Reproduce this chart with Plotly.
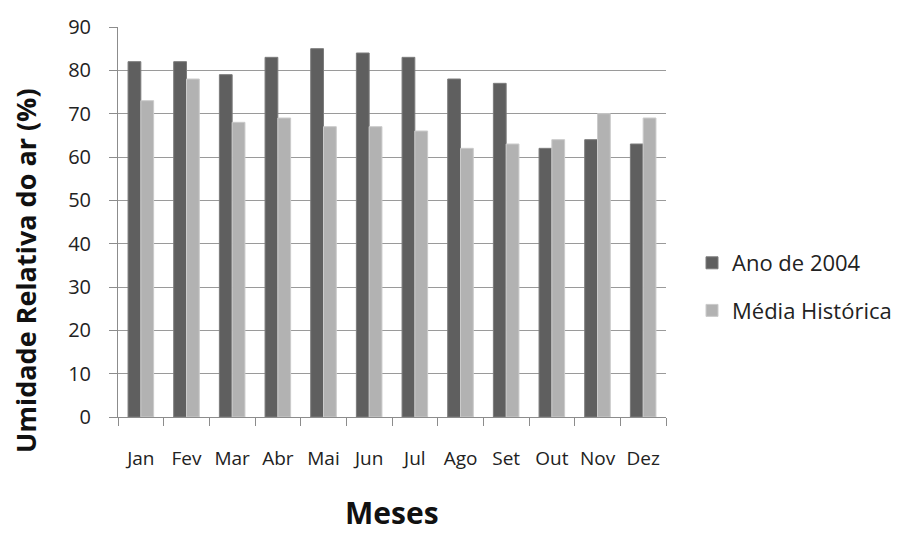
import plotly.graph_objects as go

meses = ["Jan", "Fev", "Mar", "Abr", "Mai", "Jun", "Jul", "Ago", "Set", "Out", "Nov", "Dez"]
ano_2004 = [82, 82, 79, 83, 85, 84, 83, 78, 77, 62, 64, 63]
media_historica = [73, 78, 68, 69, 67, 67, 66, 62, 63, 64, 70, 69]
y_ticks = [0, 10, 20, 30, 40, 50, 60, 70, 80, 90]

font_main = "Open Sans, DejaVu Sans, sans-serif"

# plot area in pixels
L, R, T, B = 118, 666, 27, 417
W, H = 904, 534

fig = go.Figure()
fig.add_trace(go.Bar(
    x=meses, y=ano_2004, name="Ano de 2004", legendgroup="a",
    marker=dict(color="#5f5f5f", line=dict(color="#7c7c7c", width=1)),
))
fig.add_trace(go.Bar(
    x=meses, y=media_historica, name="Média Histórica", legendgroup="b",
    marker=dict(color="#b2b2b2", line=dict(color="#cbcbcb", width=1)),
))

fig.update_layout(
    width=W, height=H,
    margin=dict(l=L, r=W - R, t=T, b=H - B),
    paper_bgcolor="white", plot_bgcolor="white",
    barmode="group", bargap=0.44, bargroupgap=0,
    font=dict(family=font_main, color="#222222"),
    showlegend=True,
    legend=dict(
        xref="container", yref="container",
        x=692 / W, y=1 - 242 / H, xanchor="left", yanchor="top",
        font=dict(size=22, color="#222222"),
        traceorder="grouped", tracegroupgap=16,
        bgcolor="rgba(0,0,0,0)",
    ),
    xaxis=dict(
        showgrid=False, showline=True, linecolor="#8c8c8c", linewidth=1,
        ticks="outside", tickson="boundaries", ticklen=8, tickcolor="#8c8c8c",
        tickfont=dict(size=19, color="#222222"),
        tickangle=0,
        ticklabelstandoff=24,
    ),
    yaxis=dict(
        range=[0, 90], tickvals=y_ticks,
        showgrid=True, gridcolor="#9a9a9a", gridwidth=1,
        showline=True, linecolor="#8c8c8c", linewidth=1,
        ticks="outside", ticklen=8, tickcolor="#8c8c8c",
        tickfont=dict(size=20, color="#222222"),
        ticklabelstandoff=14,
        zeroline=False,
    ),
    annotations=[
        dict(
            text="<b>Umidade Relativa do ar (%)</b>", textangle=-90,
            xref="paper", yref="paper",
            x=(25 - L) / (R - L), y=(B - 271) / (B - T),
            xanchor="center", yanchor="middle", showarrow=False,
            font=dict(size=27, color="#111111"),
        ),
        dict(
            text="<b>Meses</b>",
            xref="paper", yref="paper",
            x=(392 - L) / (R - L), y=(B - 512) / (B - T),
            xanchor="center", yanchor="middle", showarrow=False,
            font=dict(size=30, color="#111111"),
        ),
    ],
)

fig.write_html("out.html")
